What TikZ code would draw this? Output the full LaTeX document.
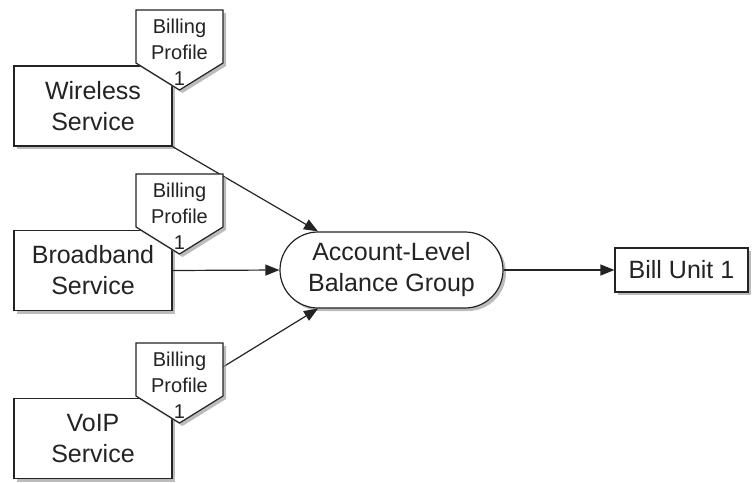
\documentclass[tikz,border=0pt]{standalone}
\usepackage{fontspec}
\setmainfont{Liberation Sans}
\usetikzlibrary{arrows.meta,positioning,shapes.misc,shadows}
\definecolor{edgec}{RGB}{35,35,35}
\definecolor{shade}{RGB}{160,160,160}
\newcommand{\boxfont}{\fontsize{25}{31}\selectfont}
\newcommand{\tagfont}{\fontsize{20}{26}\selectfont}
% billing tag: #1 = top edge, #2 = node name
\newcommand{\billtag}[2]{%
  \draw[tagshape] (136,#1) -- (223,#1) -- (223,#1+53) -- (179.5,#1+80) -- (136,#1+53) -- cycle;
  \node[font=\tagfont,align=center,inner sep=0pt] (#2) at (179.5,#1+42) {Billing\\Profile\\1};}

\begin{document}
\begin{tikzpicture}[x=1pt,y=-1pt,every node/.style={font=\boxfont,text=edgec},
  shad/.style={drop shadow={shadow xshift=3pt,shadow yshift=-3pt,fill=shade,opacity=.7}},
  svc/.style={draw=edgec,line width=1.2pt,fill=white,minimum width=158pt,minimum height=80pt,align=center,inner sep=0pt,shad},
  tagshape/.style={draw=edgec,line width=1.2pt,fill=white,line join=miter,shad},
  flow/.style={draw=edgec,line width=1.2pt,-{Triangle[length=14pt,width=11pt]}}]
  \useasboundingbox (0,0) rectangle (752,482);

  \node[svc] (wls) at (93,106) {Wireless\\Service};
  \node[svc] (bb) at (93,270.5) {Broadband\\Service};
  \node[svc] (voip) at (93,438.5) {VoIP\\Service};
  \node[draw=edgec,line width=1.2pt,fill=white,rounded rectangle,minimum width=223pt,minimum height=76pt,align=center,inner sep=0pt,shad] (bal) at (391.5,270) {Account-Level\\Balance Group};
  \node[draw=edgec,line width=1.2pt,fill=white,minimum width=133pt,minimum height=44pt,inner sep=0pt,shad] (bill) at (681.5,270) {Bill Unit 1};

  \draw[flow] (wls.south east) -- (bal.north west);
  \draw[flow] (bb.east) -- (bal.west);
  \draw[flow] (voip.north east) -- (bal.south west);
  \draw[flow] (bal.east) -- (bill.west);

  \billtag{10}{tagw}
  \billtag{174}{tagb}
  \billtag{343}{tagv}
\end{tikzpicture}
\end{document}
